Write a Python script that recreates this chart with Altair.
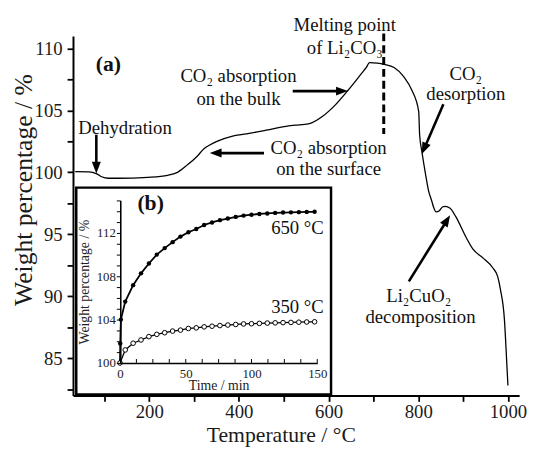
import math
import altair as alt
import pandas as pd

FONT = "Liberation Serif"

# ---------------- main TGA curve (a) ----------------
temp = [35, 65, 83, 94, 109, 131, 197, 241, 263, 285, 307, 322, 335, 351, 384, 417, 461,
        511, 526, 555, 586, 614, 643, 674, 685, 691, 709, 724, 746, 768, 786, 801, 803,
        808, 816, 823, 830, 834, 840, 847, 854, 860, 871, 884, 906, 922, 944, 966, 977,
        983, 992, 998, 1000]
weight = [100.05, 100.04, 99.88, 99.64, 99.52, 99.52, 99.60, 99.76, 100.0, 100.6, 101.3,
          101.9, 102.2, 102.5, 102.9, 103.1, 103.4, 103.75, 103.8, 103.9, 104.5, 105.4,
          106.6, 108.0, 108.5, 108.85, 108.8, 108.7, 108.45, 107.7, 106.6, 104.9, 103.05,
          101.7, 99.9, 98.5, 97.7, 97.2, 96.8, 96.9, 97.2, 97.25, 97.1, 96.4, 94.8, 93.8,
          93.1, 92.3, 91.6, 90.6, 88.2, 84.2, 82.8]

# annotations of panel (a)
ann_text = ["Dehydration", "CO₂ absorption", "on the bulk", "Melting point", "of Li₂CO₃",
            "CO₂ absorption", "on the surface", "CO₂", "desorption", "Li₂CuO₂",
            "decomposition"]
ann_T = [146, 399, 399, 636, 636, 600, 600, 906, 906, 801, 805]
ann_W = [103.53, 107.74, 105.9, 111.87, 110.0, 101.94, 100.27, 107.9, 106.31, 90.05, 88.36]

# arrows: tail -> tip
arrow_T0 = [82, 456, 520, 856, 779]
arrow_W0 = [103.03, 101.55, 106.55, 105.5, 91.2]
arrow_T1 = [82, 335, 643, 808, 871]
arrow_W1 = [99.9, 101.55, 106.55, 101.47, 96.54]

melting_T = 723
melting_W = [111.2, 103.1]

# ---------------- inset (b) ----------------
times = [0, 4, 10, 16, 22, 28, 34, 40, 46, 52, 58, 64, 70, 76, 82, 88, 94, 100, 106, 112,
         118, 124, 130, 136, 142, 148]
t650 = [0, 0.2, 0.7] + times[1:]
w650 = [100, 101.8, 104.0, 105.66, 107.18, 108.27, 109.18, 110.0, 110.6, 111.15, 111.66,
        112.06, 112.36, 112.73, 112.97, 113.18, 113.33, 113.48, 113.6, 113.68, 113.75,
        113.8, 113.85, 113.88, 113.9, 113.92, 113.94, 113.95]
w350 = [100, 101.2, 101.82, 102.12, 102.43, 102.64, 102.79, 102.94, 103.03, 103.18, 103.24,
        103.33, 103.39, 103.45, 103.5, 103.55, 103.6, 103.62, 103.65, 103.68, 103.7, 103.72,
        103.74, 103.76, 103.78, 103.8]
inset_xticks = [0, 12.5, 25, 37.5, 50, 62.5, 75, 87.5, 100, 112.5, 125, 137.5, 150]

# ---------------- layout ----------------
W_PX, H_PX = 453, 365
XD, YD = [30, 1025], [82, 111]
KX = W_PX / (XD[1] - XD[0])
KY = H_PX / (YD[1] - YD[0])


def xs():
    return alt.Scale(domain=XD, nice=False, zero=False)


def ys():
    return alt.Scale(domain=YD, nice=False, zero=False)


def ixs():
    return alt.Scale(domain=[0, 150], range=[47.7, 248], nice=False, zero=False)


def iys():
    return alt.Scale(domain=[100, 115], range=[332, 167], nice=False, zero=False)


axis_common = dict(domainColor="black", domainWidth=2, tickColor="black", tickWidth=1.8,
                   tickSize=6, labelFont=FONT, labelFontSize=19, labelColor="#1a1a1a",
                   titleFont=FONT, titleFontWeight="normal", titleColor="#1a1a1a",
                   grid=False, labelFlush=False, labelOverlap=False, format="d")

df_main = pd.DataFrame({"T": temp, "W": weight})
curve = alt.Chart(df_main).mark_line(color="black", strokeWidth=1.3,
                                     interpolate="monotone").encode(
    x=alt.X("T:Q", scale=xs(), axis=alt.Axis(
        values=list(range(100, 1001, 100)),
        labelExpr="datum.value % 200 == 0 ? datum.label : ''",
        title="Temperature / °C", titleFontSize=22, titleX=211, titleY=47,
        titleBaseline="alphabetic", labelPadding=1, **axis_common)),
    y=alt.Y("W:Q", scale=ys(), axis=alt.Axis(
        values=[82.5 + 2.5 * i for i in range(12)],
        labelExpr="datum.value % 5 == 0 ? datum.label : ''",
        title="Weight percentage / %", titleFontSize=26, titleX=-50, titleY=156,
        titleBaseline="middle", labelPadding=5, **axis_common)),
)

df_melt = pd.DataFrame({"T": [melting_T], "W0": [melting_W[0]], "W1": [melting_W[1]]})
melt_line = alt.Chart(df_melt).mark_rule(color="black", strokeWidth=3,
                                         strokeDash=[8, 4]).encode(
    x=alt.X("T:Q", scale=xs(), axis=None),
    y=alt.Y("W0:Q", scale=ys(), axis=None),
    y2="W1:Q",
)

HEAD = 12.0
rows = []
for t0, w0, t1, w1 in zip(arrow_T0, arrow_W0, arrow_T1, arrow_W1):
    dx = (t1 - t0) * KX
    dy = -(w1 - w0) * KY
    L = math.hypot(dx, dy)
    ux, uy = dx / L, dy / L
    ang = math.degrees(math.atan2(dx, -dy)) % 360
    s = HEAD * 0.7
    rows.append({"T0": t0, "W0": w0, "T1": t1, "W1": w1,
                 "Te": t1 - s * ux / KX, "We": w1 + s * uy / KY, "ang": ang})
df_arr = pd.DataFrame(rows)

arrow_shafts = alt.Chart(df_arr).mark_rule(color="black", strokeWidth=2.6).encode(
    x=alt.X("T0:Q", scale=xs(), axis=None), y=alt.Y("W0:Q", scale=ys(), axis=None),
    x2="Te:Q", y2="We:Q")
arrow_heads = alt.Chart(df_arr).mark_point(
    shape="M0,0L-0.38,1L0.38,1Z", filled=True, color="black", opacity=1,
    size=(2 * HEAD) ** 2).encode(
    x=alt.X("T1:Q", scale=xs(), axis=None), y=alt.Y("W1:Q", scale=ys(), axis=None),
    angle=alt.Angle("ang:Q", scale=None))

df_ann = pd.DataFrame({"txt": ann_text, "T": ann_T, "W": ann_W})
ann = alt.Chart(df_ann).mark_text(font=FONT, fontSize=19, color="#111",
                                  baseline="middle", align="center").encode(
    x=alt.X("T:Q", scale=xs(), axis=None), y=alt.Y("W:Q", scale=ys(), axis=None),
    text="txt:N")

df_a = pd.DataFrame({"txt": ["(a)"], "T": [109], "W": [108.7]})
label_a = alt.Chart(df_a).mark_text(font=FONT, fontSize=22, fontWeight="bold",
                                    color="#111", baseline="middle").encode(
    x=alt.X("T:Q", scale=xs(), axis=None), y=alt.Y("W:Q", scale=ys(), axis=None),
    text="txt:N")

# ---------------- inset ----------------
box = alt.Chart(pd.DataFrame({"a": [0]})).mark_rect(
    fill="white", stroke="black", strokeWidth=2.5).encode(
    x=alt.value(3.3), x2=alt.value(262), y=alt.value(154), y2=alt.value(364))

iaxis = dict(domainColor="black", domainWidth=1.6, tickColor="black", tickWidth=1,
             labelFont=FONT, labelFontSize=13, labelColor="#222", titleFont=FONT,
             titleFontWeight="normal", titleColor="#222", grid=False,
             labelFlush=False, labelOverlap=False, format="d", zindex=2)

df650 = pd.DataFrame({"t": t650, "w": w650})
df350 = pd.DataFrame({"t": times, "w": w350})

line650 = alt.Chart(df650).mark_line(color="black", strokeWidth=1.8).encode(
    x=alt.X("t:Q", scale=ixs(), axis=alt.Axis(
        orient="bottom", offset=-33, values=[0, 50, 100, 150], ticks=False, tickSize=0,
        labelPadding=5, title="Time / min", titleFontSize=14, titleY=23,
        titleBaseline="middle", **iaxis)),
    y=alt.Y("w:Q", scale=iys(), axis=alt.Axis(
        orient="left", offset=-48, values=list(range(100, 116)), tickSize=4,
        labelExpr="datum.value % 4 == 0 ? datum.label : ''", labelPadding=1,
        title="Weight percentage / %", titleFontSize=14, titleX=-36, titleY=249.5,
        titleBaseline="middle", **iaxis)),
)
pts650 = alt.Chart(df650).mark_point(shape="circle", filled=True, color="black",
                                     opacity=1, size=20).encode(
    x=alt.X("t:Q", scale=ixs(), axis=None), y=alt.Y("w:Q", scale=iys(), axis=None))
line350 = alt.Chart(df350).mark_line(color="black", strokeWidth=1.3).encode(
    x=alt.X("t:Q", scale=ixs(), axis=None), y=alt.Y("w:Q", scale=iys(), axis=None))
pts350 = alt.Chart(df350).mark_point(shape="circle", filled=True, fill="white",
                                     stroke="black", strokeWidth=1, opacity=1,
                                     size=22).encode(
    x=alt.X("t:Q", scale=ixs(), axis=None), y=alt.Y("w:Q", scale=iys(), axis=None))

df_ticks = pd.DataFrame({"t": inset_xticks})
iticks = alt.Chart(df_ticks).mark_rule(color="black", strokeWidth=1).encode(
    x=alt.X("t:Q", scale=ixs(), axis=None),
    y=alt.Y(datum=100, scale=iys(), axis=None), y2=alt.datum(100.36))

df_itxt = pd.DataFrame({"txt": ["650 °C", "350 °C"], "t": [155, 155], "w": [112.45, 105.2]})
itxt = alt.Chart(df_itxt).mark_text(font=FONT, fontSize=19, color="#111", align="right",
                                    baseline="middle").encode(
    x=alt.X("t:Q", scale=ixs(), axis=None), y=alt.Y("w:Q", scale=iys(), axis=None),
    text="txt:N")
df_b = pd.DataFrame({"txt": ["(b)"], "t": [23.3], "w": [114.73]})
label_b = alt.Chart(df_b).mark_text(font=FONT, fontSize=22, fontWeight="bold",
                                    color="#111", baseline="middle").encode(
    x=alt.X("t:Q", scale=ixs(), axis=None), y=alt.Y("w:Q", scale=iys(), axis=None),
    text="txt:N")

chart = alt.layer(
    curve, melt_line, arrow_shafts, arrow_heads, ann, label_a,
    box, iticks, line650, pts650, line350, pts350, itxt, label_b,
).resolve_scale(x="independent", y="independent").properties(
    width=W_PX, height=H_PX,
    padding={"left": 66, "top": 25, "right": 10, "bottom": 51},
    autosize=alt.AutoSizeParams(type="none"),
).configure(font=FONT).configure_view(stroke=None)

chart.save("out.html", embed_options={"renderer": "svg", "actions": False})
